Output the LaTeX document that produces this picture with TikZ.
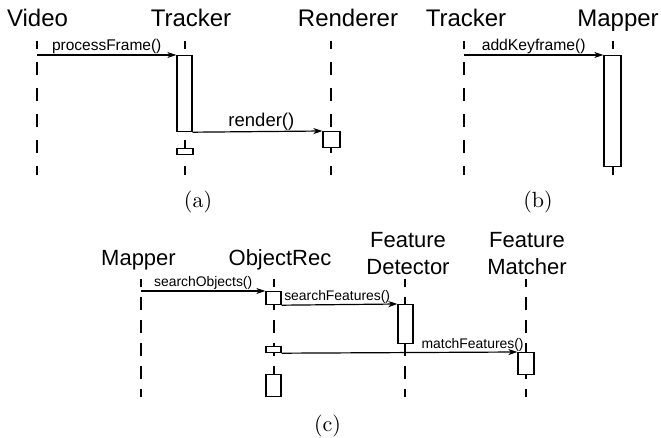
\documentclass[tikz,border=0pt]{standalone}
\usepackage{fontspec}
\newfontfamily\labfont{Liberation Sans}
\usetikzlibrary{arrows.meta}
\begin{document}
\begin{tikzpicture}[x=1pt,y=-1pt,
  head/.style={font=\labfont\fontsize{#1}{27}\selectfont, anchor=base, inner sep=0pt},
  head/.default=24,
  lifeA/.style={line width=1.2pt, dash pattern=on 13pt off 13pt, dash phase=5pt},
  lifeC/.style={line width=1.2pt, dash pattern=on 13pt off 10pt, dash phase=5pt},
  actbox/.style={draw, fill=white, line width=1.2pt, inner sep=0pt, anchor=north,
                 minimum width=#1},
  actbox/.default=15pt,
  msg/.style={line width=1.2pt, -{Stealth[length=9pt,width=6pt,inset=2.5pt]}},
  msglab/.style={font=\labfont\fontsize{#1}{#1}\selectfont, anchor=base, inner sep=0pt, yshift=4pt},
  subcap/.style={anchor=base, inner sep=0pt}]
\useasboundingbox (0,0) rectangle (661,438);

% ---------- (a) ----------
\node[head] (video) at (37.5,27) {Video};
\node[head] (trackerA) at (191,27) {Tracker};
\node[head] (renderer) at (348,27) {Renderer};

\coordinate (videoT) at (37,41);    \coordinate (videoB) at (37,175);
\coordinate (trackerAT) at (185,41); \coordinate (trackerAB) at (185,175);
\coordinate (rendT) at (331,41);    \coordinate (rendB) at (331,175);
\draw[lifeA] (videoT) -- (videoB);
\draw[lifeA] (trackerAT) -- (trackerAB);
\draw[lifeA] (rendT) -- (rendB);

\node[actbox, minimum height=76pt] (trkAct) at (184.5,55) {};
\node[actbox=16pt, minimum height=6pt] (trkSmall) at (185,148) {};
\node[actbox=17pt, minimum height=16pt] (rendAct) at (331.5,131) {};

\draw[msg] (videoT |- trkAct.north west) -- node[msglab=15.5] (lblProc) {processFrame()} (trkAct.north west);
\draw[msg] (trkAct.south east) -- node[msglab=18.5, pos=0.53, yshift=1.5pt] (lblRender) {render()} (rendAct.north west);

\node[subcap] (capA) at (198,208) {\scalebox{2.2}{(a)}};

% ---------- (b) ----------
\node[head] (trackerB) at (466,27) {Tracker};
\node[head] (mapperB) at (618,27) {Mapper};

\coordinate (trackerBT) at (464,41); \coordinate (trackerBB) at (464,175);
\coordinate (mapperBT) at (613,41);  \coordinate (mapperBB) at (613,175);
\draw[lifeA] (trackerBT) -- (trackerBB);
\draw[lifeA] (mapperBT) -- (mapperBB);

\node[actbox=17pt, minimum height=111pt] (mapAct) at (612.5,55) {};
\draw[msg] (trackerBT |- mapAct.north west) -- node[msglab=15.7] (lblKey) {addKeyframe()} (mapAct.north west);

\node[subcap] (capB) at (538,208) {\scalebox{2.2}{(b)}};

% ---------- (c) ----------
\node[head=22] (mapperC) at (138.5,266) {Mapper};
\node[head=22] (objrec) at (280,266) {ObjectRec};
\node[head=22, align=center] (fdet) at (408,275) {Feature\\Detector};
\node[head=22, align=center] (fmat) at (527,275) {Feature\\Matcher};

\coordinate (mapCT) at (141,279); \coordinate (mapCB) at (141,397);
\coordinate (objT) at (274,279);  \coordinate (objB) at (274,397);
\coordinate (fdT) at (405,279);   \coordinate (fdB) at (405,397);
\coordinate (fmT) at (526,279);   \coordinate (fmB) at (526,397);
\draw[lifeC] (mapCT) -- (mapCB);
\draw[lifeC] (objT) -- (objB);
\draw[lifeC] (fdT) -- (fdB);
\draw[lifeC] (fmT) -- (fmB);

\node[actbox, minimum height=13pt] (obj1) at (273.5,291) {};
\node[actbox, minimum height=6pt] (obj2) at (273.5,346) {};
\node[actbox, minimum height=22pt] (obj3) at (273.5,374) {};
\node[actbox, minimum height=39pt] (fdAct) at (405.5,304) {};
\node[actbox=16pt, minimum height=22pt] (fmAct) at (526,352) {};

\draw[msg] (mapCT |- obj1.north west) -- node[msglab=13.9] (lblObj) {searchObjects()} (obj1.north west);
\draw[msg] (obj1.south east) -- node[msglab=13.9, pos=0.48] (lblFeat) {searchFeatures()} (fdAct.north west);
\draw[msg] (obj2.south east) -- node[msglab=13.9, pos=0.81] (lblMatch) {matchFeatures()} (fmAct.north west);

\node[subcap] (capC) at (327.5,431) {\scalebox{2.2}{(c)}};
\end{tikzpicture}
\end{document}
